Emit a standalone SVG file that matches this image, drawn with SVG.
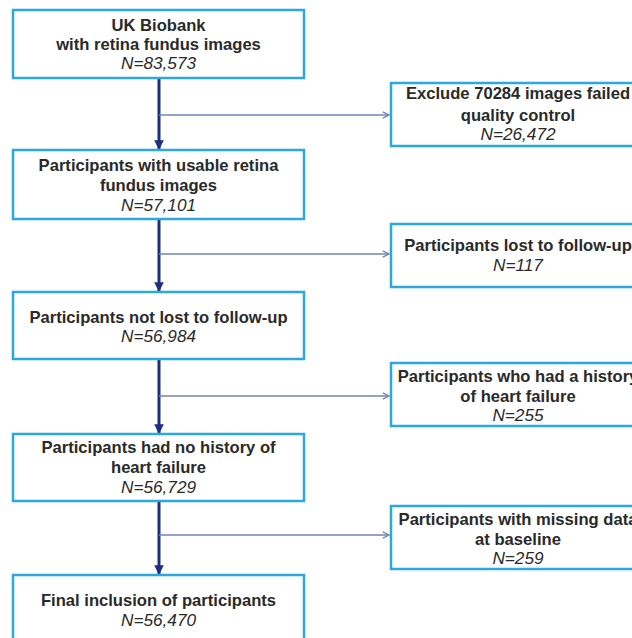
<svg xmlns="http://www.w3.org/2000/svg" width="632" height="638" viewBox="0 0 632 638">
<style>
.box{fill:#fff;stroke:#2aa9e0;stroke-width:2.5}
.t{font-family:"Liberation Sans",Arial,sans-serif;font-size:16.6px;font-weight:bold;fill:#2a2a2a;text-anchor:middle}
.n{font-family:"Liberation Sans",Arial,sans-serif;font-size:17.2px;font-style:italic;fill:#2a2a2a;text-anchor:middle}
.main{stroke:#1b2f80;stroke-width:3;fill:none}
.br{stroke:#7184b8;stroke-width:1.3;fill:none}
</style>
<defs>
<marker id="mh" viewBox="0 0 10 10" refX="9" refY="5" markerWidth="3.2" markerHeight="3.2" orient="auto" markerUnits="strokeWidth">
<path d="M0,0 L10,5 L0,10 z" fill="#1b2f80"/>
</marker>
<marker id="bh" viewBox="0 0 10 10" refX="9" refY="5" markerWidth="6" markerHeight="6" orient="auto" markerUnits="strokeWidth">
<path d="M1,1 L9,5 L1,9" fill="none" stroke="#7184b8" stroke-width="1.5"/>
</marker>
</defs>
<rect width="632" height="638" fill="#fff"/>
<g id="connectors">
<line class="main" x1="159" y1="79" x2="159" y2="149" marker-end="url(#mh)"/>
<line class="br" x1="159" y1="115" x2="389" y2="115" marker-end="url(#bh)"/>
<line class="main" x1="159" y1="220" x2="159" y2="291" marker-end="url(#mh)"/>
<line class="br" x1="159" y1="254" x2="389" y2="254" marker-end="url(#bh)"/>
<line class="main" x1="159" y1="360" x2="159" y2="433" marker-end="url(#mh)"/>
<line class="br" x1="159" y1="396" x2="389" y2="396" marker-end="url(#bh)"/>
<line class="main" x1="159" y1="502" x2="159" y2="574" marker-end="url(#mh)"/>
<line class="br" x1="159" y1="535" x2="389" y2="535" marker-end="url(#bh)"/>
</g>
<g id="n1">
<rect class="box" x="13" y="10" width="291" height="68"/>
<text class="t" x="158.5" y="31">UK Biobank</text>
<text class="t" x="158.5" y="50">with retina fundus images</text>
<text class="n" x="158.5" y="69">N=83,573</text>
</g>
<g id="e1">
<rect class="box" x="391" y="83" width="254" height="63"/>
<text class="t" x="518" y="99">Exclude 70284 images failed</text>
<text class="t" x="518" y="121">quality control</text>
<text class="n" x="518" y="140">N=26,472</text>
</g>
<g id="n2">
<rect class="box" x="13" y="150" width="291" height="69"/>
<text class="t" x="158.5" y="171">Participants with usable retina</text>
<text class="t" x="158.5" y="191">fundus images</text>
<text class="n" x="158.5" y="211">N=57,101</text>
</g>
<g id="e2">
<rect class="box" x="391" y="224" width="254" height="63"/>
<text class="t" x="518" y="251">Participants lost to follow-up</text>
<text class="n" x="518" y="271">N=117</text>
</g>
<g id="n3">
<rect class="box" x="13" y="292" width="291" height="67"/>
<text class="t" x="158.5" y="323">Participants not lost to follow-up</text>
<text class="n" x="158.5" y="342">N=56,984</text>
</g>
<g id="e3">
<rect class="box" x="391" y="363" width="254" height="63"/>
<text class="t" x="518" y="382">Participants who had a history</text>
<text class="t" x="518" y="402">of heart failure</text>
<text class="n" x="518" y="421">N=255</text>
</g>
<g id="n4">
<rect class="box" x="13" y="434" width="291" height="67"/>
<text class="t" x="158.5" y="453">Participants had no history of</text>
<text class="t" x="158.5" y="473">heart failure</text>
<text class="n" x="158.5" y="493">N=56,729</text>
</g>
<g id="e4">
<rect class="box" x="391" y="506" width="254" height="63"/>
<text class="t" x="518" y="525">Participants with missing data</text>
<text class="t" x="518" y="545">at baseline</text>
<text class="n" x="518" y="564">N=259</text>
</g>
<g id="n5">
<rect class="box" x="13" y="575" width="291" height="70"/>
<text class="t" x="158.5" y="606">Final inclusion of participants</text>
<text class="n" x="158.5" y="626">N=56,470</text>
</g>
</svg>
